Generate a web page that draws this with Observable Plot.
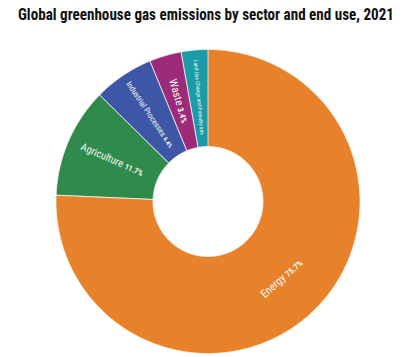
<!DOCTYPE html>
<html>
<head>
<meta charset="utf-8">
<script src="https://cdn.jsdelivr.net/npm/d3@7"></script>
<script src="https://cdn.jsdelivr.net/npm/@observablehq/plot@0.6"></script>
<style>
  html, body { margin: 0; padding: 0; background: #fff; }
  #titlebox { height: 30px; position: relative; overflow: visible; }
  #title { position: absolute; left: 18px; top: 4px; transform-origin: 0 0; font-family: "Liberation Sans Narrow", "Roboto Condensed", Roboto, sans-serif; font-weight: bold; font-size: 17px; line-height: 20px; color: #111; white-space: nowrap; }
  svg { display: block; }
</style>
</head>
<body>
<div id="titlebox"><span id="title">Global greenhouse gas emissions by sector and end use, 2021</span></div>
<div id="chart"></div>
<script>
const sectors = ["Energy", "Agriculture", "Industrial Processes", "Waste", "Land Use Change and Forestry"];
const shares = [75.7, 11.7, 6.4, 3.4, 2.8];
const shareLabels = ["75.7%", "11.7%", "6.4%", "3.4%", "2.8%"];

const palette = ["#E8822A", "#2F8A4B", "#3D56A5", "#9C2A78", "#1B9BA8"];
const labelSizes = [11, 10.5, 8, 11, 5.5];
const innerR = 55 / 152;

// condense the title to the reference's width
const titleEl = document.getElementById("title");
const tw = titleEl.getBoundingClientRect().width;
if (tw > 0) titleEl.style.transform = `scaleX(${376 / tw})`;

const arcs = d3.pie().sort(null).value(d => d.share)(
  sectors.map((s, i) => ({sector: s, share: shares[i], pct: shareLabels[i], size: labelSizes[i]}))
);

const pts = [];
for (const a of arcs) {
  const n = Math.max(4, Math.ceil((a.endAngle - a.startAngle) / 0.01));
  for (let k = 0; k <= n; k++) {
    const t = a.startAngle + (a.endAngle - a.startAngle) * k / n;
    pts.push({sector: a.data.sector, x: Math.sin(t), y: Math.cos(t)});
  }
  for (let k = n; k >= 0; k--) {
    const t = a.startAngle + (a.endAngle - a.startAngle) * k / n;
    pts.push({sector: a.data.sector, x: innerR * Math.sin(t), y: innerR * Math.cos(t)});
  }
}

const midR = (innerR + 1) / 2;
const labels = arcs.map(a => {
  const m = (a.startAngle + a.endAngle) / 2;
  const deg = m * 180 / Math.PI;
  const tangential = a.data.share > 50;
  return {
    text: a.data.sector + "|" + a.data.pct,
    x: midR * Math.sin(m) * (tangential ? 1.03 : 1.01),
    y: midR * Math.cos(m) * (tangential ? 1.03 : 1.01),
    rotate: tangential ? deg - 178 : deg - 270,
    size: a.data.size
  };
});

const chart = Plot.plot({
  width: 406,
  height: 327,
  marginLeft: 55.5,
  marginRight: 46.5,
  marginTop: 19,
  marginBottom: 4,
  x: {domain: [-1, 1], axis: null},
  y: {domain: [-1, 1], axis: null},
  color: {domain: sectors, range: palette},
  marks: [
    Plot.line(pts, {x: "x", y: "y", z: "sector", fill: "sector", stroke: "#f4f4f4", strokeWidth: 0.8, curve: "linear-closed"}),
    Plot.text(labels, {x: "x", y: "y", text: "text", rotate: "rotate", fontSize: "size", fill: "#f7f7f2",
      fontFamily: "'Liberation Sans Narrow', 'Roboto Condensed', Roboto, sans-serif", textAnchor: "middle", letterSpacing: "-0.3px"})
  ]
});

chart.querySelectorAll('g[aria-label="text"] text').forEach(t => {
  const parts = t.textContent.split("|");
  if (parts.length !== 2) return;
  const fs = parseFloat(t.getAttribute("font-size")) || 10;
  t.textContent = "";
  const a = document.createElementNS("http://www.w3.org/2000/svg", "tspan");
  a.textContent = parts[0] + " ";
  const b = document.createElementNS("http://www.w3.org/2000/svg", "tspan");
  b.textContent = parts[1];
  b.setAttribute("font-weight", "bold");
  b.setAttribute("font-size", (fs * 0.75).toFixed(2));
  t.appendChild(a);
  t.appendChild(b);
});

document.getElementById("chart").appendChild(chart);
</script>
</body>
</html>
